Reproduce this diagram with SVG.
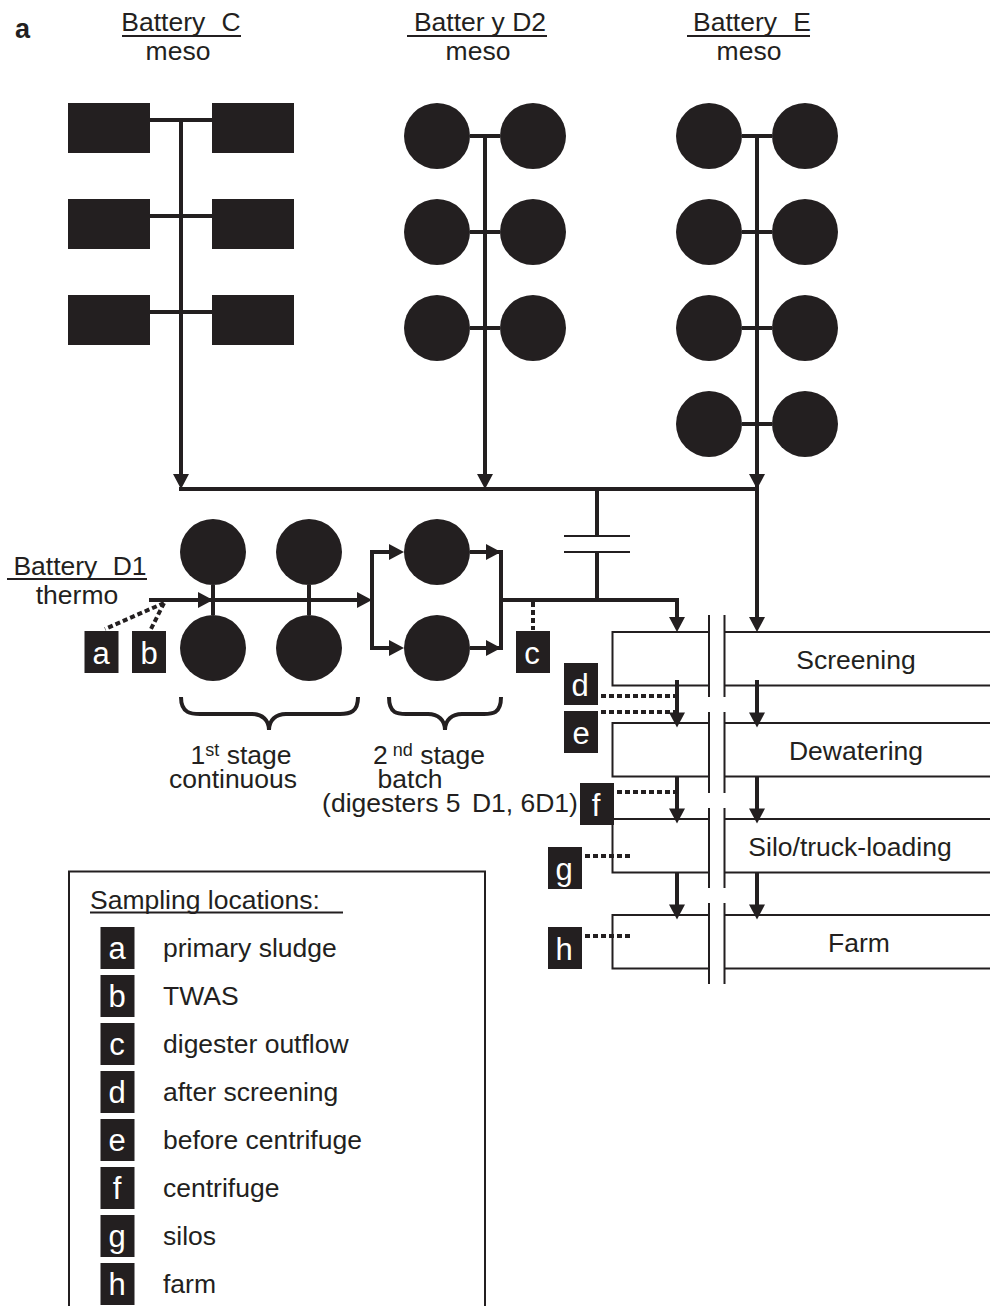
<svg xmlns="http://www.w3.org/2000/svg" width="990" height="1306" viewBox="0 0 990 1306">
<style>
text{font-family:"Liberation Sans",Arial,sans-serif;font-size:26.5px;fill:#231f20}
.m{text-anchor:middle}
.tag{fill:#231f20}
text.tagt{font-size:31px;fill:#fff;text-anchor:middle}
.d{fill:#231f20}
.l{stroke:#231f20;stroke-width:4;fill:none}
.t{stroke:#231f20;stroke-width:2;fill:none}
.dot{stroke:#231f20;stroke-width:4;fill:none;stroke-dasharray:5 3}
.h{fill:#231f20}
</style>
<defs>
<path id="ad" class="h" d="M-8-15H8L0 0Z"/>
<path id="ar" class="h" d="M-15-8V8L0 0Z"/>
</defs>
<rect width="990" height="1306" fill="#fff"/>
<text x="15" y="38" style="font-weight:bold;font-size:27px">a</text>

<g id="labels">
<text x="181" y="31" class="m" word-spacing="9">Battery C</text><path class="t" d="M122 36H241"/>
<text x="178" y="60" class="m">meso</text>
<text x="480" y="31" class="m">Batter<tspan dx="7">y</tspan> D2</text><path class="t" d="M407 36H547"/>
<text x="478" y="60" class="m">meso</text>
<text x="752" y="31" class="m" word-spacing="9">Battery E</text><path class="t" d="M687 36H810"/>
<text x="749" y="60" class="m">meso</text>
<text x="80" y="575" class="m" word-spacing="8">Battery D1</text><path class="t" d="M7 579H147"/>
<text x="77" y="604" class="m">thermo</text>
<text x="241" y="764" class="m">1<tspan dy="-8" font-size="18">st</tspan><tspan dy="8"> stage</tspan></text>
<text x="233" y="788" class="m">continuous</text>
<text x="429" y="764" class="m">2<tspan dx="5" dy="-8" font-size="18">nd</tspan><tspan dy="8"> stage</tspan></text>
<text x="410" y="788" class="m">batch</text>
<text x="450" y="812" class="m">(digesters 5<tspan dx="4"> D1,</tspan> 6D1)</text>
</g>

<g id="connectors">
<path class="l" d="M150 120H212M150 216H212M150 312H212M181 120V480"/>
<path class="l" d="M470 136H500M470 232H500M470 328H500M485 136V480"/>
<path class="l" d="M742 136H772M742 232H772M742 328H772M742 424H772M757 136V625"/>
<path class="l" d="M179 489H757"/>
<path class="l" d="M597 489V536M597 552V600"/>
<path class="t" d="M564 536H630M564 552H630"/>
<use href="#ad" x="181" y="489"/><use href="#ad" x="485" y="489"/><use href="#ad" x="757" y="489"/>
<use href="#ad" x="757" y="632"/>
<path class="l" d="M149 600H360M213 585V615M309 585V615"/>
<use href="#ar" x="213" y="600"/><use href="#ar" x="372" y="600"/>
<path class="l" d="M395 552H372V648H395M470 552H499M470 648H499M501 550V650M501 600H677V622"/>
<use href="#ar" x="404" y="552"/><use href="#ar" x="404" y="648"/>
<use href="#ar" x="501" y="552"/><use href="#ar" x="501" y="648"/>
<use href="#ad" x="677" y="632"/>
<path class="l" d="M677 680V715M757 680V715M677 776V810M757 776V810M677 872V905M757 872V905"/>
<use href="#ad" x="677" y="727.500"/><use href="#ad" x="757" y="727.500"/>
<use href="#ad" x="677" y="823.500"/><use href="#ad" x="757" y="823.500"/>
<use href="#ad" x="677" y="919.500"/><use href="#ad" x="757" y="919.500"/>
<path class="l" d="M181 697C181 714 192 714 200 714H252C262 714 269 720 269 730C269 720 276 714 286 714H340C350 714 358 712 358 697"/>
<path class="l" d="M389 697C389 714 398 714 406 714H428C438 714 445 720 445 730C445 720 452 714 462 714H484C492 714 501 714 501 697"/>
<path class="dot" d="M164 603L105 629M164 603L151 629M533 602V630M601 696H676M601 712H676M617 792H676M585 856H630M585 936H630"/>
</g>

<g id="n-screening"><path class="t" d="M708 632H612.500V685.500H708M725 632H990M725 685.500H990"/><text x="856" y="669" class="m">Screening</text></g>
<g id="n-dewatering"><path class="t" d="M708 723H612.500V776.500H708M725 723H990M725 776.500H990"/><text x="856" y="760" class="m">Dewatering</text></g>
<g id="n-silo"><path class="t" d="M708 819H612.500V872.500H708M725 819H990M725 872.500H990"/><text x="850" y="856" class="m">Silo/truck-loading</text></g>
<g id="n-farm"><path class="t" d="M708 915H612.500V968.500H708M725 915H990M725 968.500H990"/><text x="859" y="952" class="m">Farm</text></g>
<path class="t" d="M709 615V697M724.500 615V697M709 712V793M724.500 712V793M709 808V888M724.500 808V888M709 903V984M724.500 903V984"/>

<g id="battery-c"><rect class="d" x="68" y="103" width="82" height="50"/><rect class="d" x="212" y="103" width="82" height="50"/><rect class="d" x="68" y="199" width="82" height="50"/><rect class="d" x="212" y="199" width="82" height="50"/><rect class="d" x="68" y="295" width="82" height="50"/><rect class="d" x="212" y="295" width="82" height="50"/></g>
<g id="battery-d2"><circle class="d" cx="437" cy="136" r="33"/><circle class="d" cx="533" cy="136" r="33"/><circle class="d" cx="437" cy="232" r="33"/><circle class="d" cx="533" cy="232" r="33"/><circle class="d" cx="437" cy="328" r="33"/><circle class="d" cx="533" cy="328" r="33"/></g>
<g id="battery-e"><circle class="d" cx="709" cy="136" r="33"/><circle class="d" cx="805" cy="136" r="33"/><circle class="d" cx="709" cy="232" r="33"/><circle class="d" cx="805" cy="232" r="33"/><circle class="d" cx="709" cy="328" r="33"/><circle class="d" cx="805" cy="328" r="33"/><circle class="d" cx="709" cy="424" r="33"/><circle class="d" cx="805" cy="424" r="33"/></g>
<g id="battery-d1-stage1"><circle class="d" cx="213" cy="552" r="33"/><circle class="d" cx="309" cy="552" r="33"/><circle class="d" cx="213" cy="648" r="33"/><circle class="d" cx="309" cy="648" r="33"/></g>
<g id="battery-d1-stage2"><circle class="d" cx="437" cy="552" r="33"/><circle class="d" cx="437" cy="648" r="33"/></g>

<g id="tag-a"><rect class="tag" x="84.500" y="631" width="34" height="42"/><text class="tagt" x="101" y="664">a</text></g>
<g id="tag-b"><rect class="tag" x="132" y="631" width="34" height="42"/><text class="tagt" x="149" y="664">b</text></g>
<g id="tag-c"><rect class="tag" x="516" y="631" width="34" height="42"/><text class="tagt" x="532" y="664">c</text></g>
<g id="tag-d"><rect class="tag" x="564" y="663" width="34" height="42"/><text class="tagt" x="580" y="696">d</text></g>
<g id="tag-e"><rect class="tag" x="564" y="711" width="34" height="42"/><text class="tagt" x="581" y="744">e</text></g>
<g id="tag-f"><rect class="tag" x="580" y="783" width="34" height="42"/><text class="tagt" x="596" y="816">f</text></g>
<g id="tag-g"><rect class="tag" x="548" y="847" width="34" height="42"/><text class="tagt" x="564" y="880">g</text></g>
<g id="tag-h"><rect class="tag" x="548" y="927" width="34" height="42"/><text class="tagt" x="564" y="960">h</text></g>

<g id="legend">
<path class="t" d="M69 1306V871.500H485V1306"/>
<text x="90" y="909">Sampling locations:</text><path class="t" d="M90 912.500H343"/>
<rect class="tag" x="100.500" y="927" width="34" height="42"/><text class="tagt" x="117" y="959">a</text><text x="163" y="957">primary sludge</text>
<rect class="tag" x="100.500" y="975" width="34" height="42"/><text class="tagt" x="117" y="1007">b</text><text x="163" y="1005">TWAS</text>
<rect class="tag" x="100.500" y="1023" width="34" height="42"/><text class="tagt" x="117" y="1055">c</text><text x="163" y="1053">digester outflow</text>
<rect class="tag" x="100.500" y="1071" width="34" height="42"/><text class="tagt" x="117" y="1103">d</text><text x="163" y="1101">after screening</text>
<rect class="tag" x="100.500" y="1119" width="34" height="42"/><text class="tagt" x="117" y="1151">e</text><text x="163" y="1149">before centrifuge</text>
<rect class="tag" x="100.500" y="1167" width="34" height="42"/><text class="tagt" x="117" y="1199">f</text><text x="163" y="1197">centrifuge</text>
<rect class="tag" x="100.500" y="1215" width="34" height="42"/><text class="tagt" x="117" y="1247">g</text><text x="163" y="1245">silos</text>
<rect class="tag" x="100.500" y="1263" width="34" height="42"/><text class="tagt" x="117" y="1295">h</text><text x="163" y="1293">farm</text>
</g>
</svg>
